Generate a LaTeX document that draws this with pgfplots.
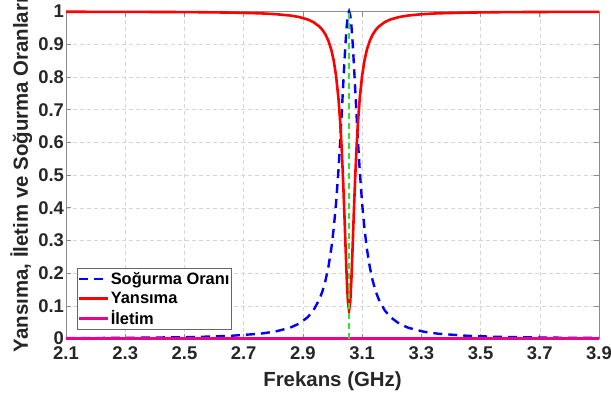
\documentclass[border=0pt]{standalone}
\usepackage{pgfplots}
\pgfplotsset{compat=1.18}
\usepackage{pgfplotstable}
\usepackage{fontspec}
\setmainfont{Liberation Sans}
\usetikzlibrary{calc}
\definecolor{txt}{rgb}{0.15,0.15,0.15}
\definecolor{axc}{rgb}{0.55,0.55,0.55}
\definecolor{mgreen}{rgb}{0.2,0.88,0.2}

\pgfplotstableread{
f A R T
2.100 0.0015 0.9995 0
2.212 0.0019 0.9993 0
2.356 0.0028 0.9990 0
2.456 0.0038 0.9987 0
2.556 0.0054 0.9981 0
2.656 0.0085 0.9970 0
2.756 0.0150 0.9947 0
2.806 0.0214 0.9923 0
2.856 0.0331 0.9881 0
2.886 0.0452 0.9836 0
2.916 0.0653 0.9760 0
2.936 0.0868 0.9676 0
2.956 0.1204 0.9541 0
2.966 0.1446 0.9440 0
2.976 0.1762 0.9303 0
2.986 0.2184 0.9110 0
2.996 0.2755 0.8830 0
3.004 0.3361 0.8506 0
3.012 0.4142 0.8041 0
3.020 0.5137 0.7354 0
3.026 0.6034 0.6620 0
3.031 0.6866 0.5815 0
3.036 0.7739 0.4801 0
3.040 0.8425 0.3847 0
3.044 0.9048 0.2823 0
3.048 0.9553 0.1855 0
3.052 0.9884 0.1138 0
3.056 1.0000 0.0870 0
3.060 0.9884 0.1138 0
3.064 0.9553 0.1855 0
3.068 0.9048 0.2823 0
3.072 0.8425 0.3847 0
3.076 0.7739 0.4801 0
3.081 0.6866 0.5815 0
3.086 0.6034 0.6620 0
3.092 0.5137 0.7354 0
3.100 0.4142 0.8041 0
3.108 0.3361 0.8506 0
3.116 0.2755 0.8830 0
3.126 0.2184 0.9110 0
3.136 0.1762 0.9303 0
3.146 0.1446 0.9440 0
3.156 0.1204 0.9541 0
3.176 0.0868 0.9676 0
3.196 0.0653 0.9760 0
3.226 0.0452 0.9836 0
3.256 0.0331 0.9881 0
3.306 0.0214 0.9923 0
3.356 0.0150 0.9947 0
3.456 0.0085 0.9970 0
3.556 0.0054 0.9981 0
3.656 0.0038 0.9987 0
3.756 0.0028 0.9990 0
3.900 0.0019 0.9993 0
}\datatable

\pgfplotstableread{
f v
3.055 0
3.055 1
}\resline

\begin{document}
\begin{tikzpicture}
\begin{axis}[
  name=ax,
  scale only axis,
  width=533bp, height=327bp,
  xmin=2.1, xmax=3.9, ymin=0, ymax=1,
  xtick={2.1,2.3,2.5,2.7,2.9,3.1,3.3,3.5,3.7,3.9},
  xticklabels={2.1,2.3,2.5,2.7,2.9,3.1,3.3,3.5,3.7,3.9},
  ytick={0,0.1,0.2,0.3,0.4,0.5,0.6,0.7,0.8,0.9,1},
  yticklabels={0,0.1,0.2,0.3,0.4,0.5,0.6,0.7,0.8,0.9,1},
  tick align=inside,
  major tick length=5bp,
  tick style={axc, line width=0.6bp},
  axis line style={axc, line width=0.7bp},
  grid=major,
  major grid style={black!16, dash pattern=on 4bp off 3bp, line width=0.5bp},
  tick label style={font=\fontsize{18.5}{20}\selectfont\bfseries, text=txt},
  xticklabel style={yshift=-5bp},
  yticklabel style={xshift=1.5bp},
  xlabel={Frekans (GHz)},
  ylabel={Yansıma, İletim ve Soğurma Oranları},
  label style={font=\fontsize{20.5}{22}\selectfont\bfseries, text=txt, inner sep=0pt},
  xlabel style={at={(axis description cs:0.5,-0.148)}, anchor=base},
  ylabel style={at={(axis description cs:-0.0713,0.5)}, anchor=base, rotate=0},
  clip=false,
  legend cell align=left,
  legend style={at={(axis description cs:0.02,0.026)}, anchor=south west,
    draw=black!60, line width=0.6bp, fill=white,
    font=\fontsize{16.5}{19}\selectfont\bfseries, text=black,
    inner xsep=1bp, inner ysep=2.5bp,
    row sep=3.5bp,
    nodes={inner sep=1.2bp}},
  legend image code/.code={\draw[#1] (0bp,0bp) -- (29bp,0bp);},
]
\addplot[blue, line width=2.4bp, dash pattern=on 9bp off 6bp] table[x=f,y=A]{\datatable};
\addlegendentry{Soğurma Oranı}
\addplot[red, line width=2.6bp] table[x=f,y=R]{\datatable};
\addlegendentry{Yansıma}
\addplot[magenta, line width=2.6bp] table[x=f,y=T]{\datatable};
\addlegendentry{İletim}
\addplot[mgreen, line width=2.3bp, dash pattern=on 6bp off 4bp, forget plot] table[x=f,y=v]{\resline};
\end{axis}
\pgfresetboundingbox
\path ($(ax.south west)+(-66bp,-64.4bp)$) rectangle ($(ax.north east)+(12bp,11.6bp)$);
\end{tikzpicture}
\end{document}
